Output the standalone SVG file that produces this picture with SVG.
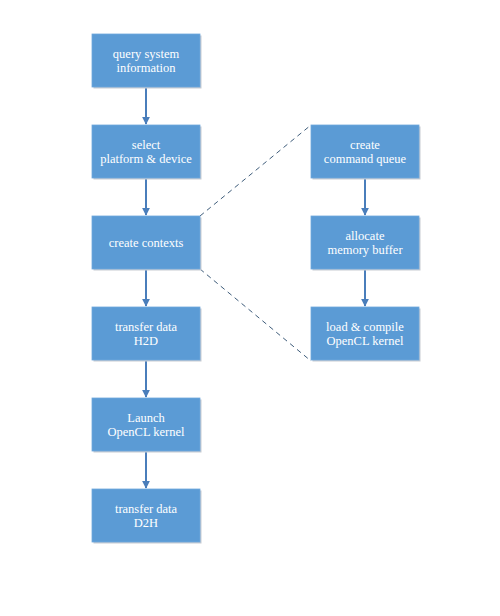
<svg xmlns="http://www.w3.org/2000/svg" width="500" height="616" viewBox="0 0 500 616">
<defs>
<style>
.box{fill:#5B9BD5;stroke:#6FA8DC;stroke-width:0.8}
.sh{fill:#c8ccd2}
.t{font-family:"Liberation Serif","Times New Roman",serif;font-size:12.5px;fill:#ffffff;text-anchor:middle}
.arr{stroke:#4A7EBB;stroke-width:2;fill:none;marker-end:url(#ah)}
.dash{stroke:#3E5C7A;stroke-width:1;fill:none;stroke-dasharray:5,4}
</style>
<marker id="ah" viewBox="0 0 10 10" refX="9" refY="5" markerWidth="8" markerHeight="8" orient="auto" markerUnits="userSpaceOnUse">
<path d="M0,0 L10,5 L0,10 z" fill="#4A7EBB"/>
</marker>
</defs>
<rect width="500" height="616" fill="#ffffff"/>
<g id="connectors">
<line class="arr" x1="146" y1="87" x2="146" y2="124"/>
<line class="arr" x1="146" y1="178" x2="146" y2="215"/>
<line class="arr" x1="146" y1="269" x2="146" y2="306"/>
<line class="arr" x1="146" y1="360" x2="146" y2="397"/>
<line class="arr" x1="146" y1="451" x2="146" y2="488"/>
<line class="arr" x1="365" y1="178" x2="365" y2="215"/>
<line class="arr" x1="365" y1="269" x2="365" y2="306"/>
<line class="dash" x1="200" y1="216" x2="311" y2="125"/>
<line class="dash" x1="200" y1="269" x2="311" y2="361"/>
</g>
<g id="n1"><rect class="sh" x="93.5" y="35.5" width="108" height="53"/><rect class="box" x="92" y="34" width="108" height="53"/><text class="t" x="146" y="58">query system</text><text class="t" x="146" y="72">information</text></g>
<g id="n2"><rect class="sh" x="93.5" y="126.5" width="108" height="53"/><rect class="box" x="92" y="125" width="108" height="53"/><text class="t" x="146" y="149">select</text><text class="t" x="146" y="163">platform &amp; device</text></g>
<g id="n3"><rect class="sh" x="93.5" y="217.5" width="108" height="53"/><rect class="box" x="92" y="216" width="108" height="53"/><text class="t" x="146" y="247">create contexts</text></g>
<g id="n4"><rect class="sh" x="93.5" y="308.5" width="108" height="53"/><rect class="box" x="92" y="307" width="108" height="53"/><text class="t" x="146" y="331">transfer data</text><text class="t" x="146" y="345">H2D</text></g>
<g id="n5"><rect class="sh" x="93.5" y="399.5" width="108" height="53"/><rect class="box" x="92" y="398" width="108" height="53"/><text class="t" x="146" y="422">Launch</text><text class="t" x="146" y="436">OpenCL kernel</text></g>
<g id="n6"><rect class="sh" x="93.5" y="490.5" width="108" height="53"/><rect class="box" x="92" y="489" width="108" height="53"/><text class="t" x="146" y="513">transfer data</text><text class="t" x="146" y="527">D2H</text></g>
<g id="n7"><rect class="sh" x="312.5" y="126.5" width="108" height="53"/><rect class="box" x="311" y="125" width="108" height="53"/><text class="t" x="365" y="149">create</text><text class="t" x="365" y="163">command queue</text></g>
<g id="n8"><rect class="sh" x="312.5" y="217.5" width="108" height="53"/><rect class="box" x="311" y="216" width="108" height="53"/><text class="t" x="365" y="240">allocate</text><text class="t" x="365" y="254">memory buffer</text></g>
<g id="n9"><rect class="sh" x="312.5" y="308.5" width="108" height="53"/><rect class="box" x="311" y="307" width="108" height="53"/><text class="t" x="365" y="331">load &amp; compile</text><text class="t" x="365" y="345">OpenCL kernel</text></g>
</svg>
